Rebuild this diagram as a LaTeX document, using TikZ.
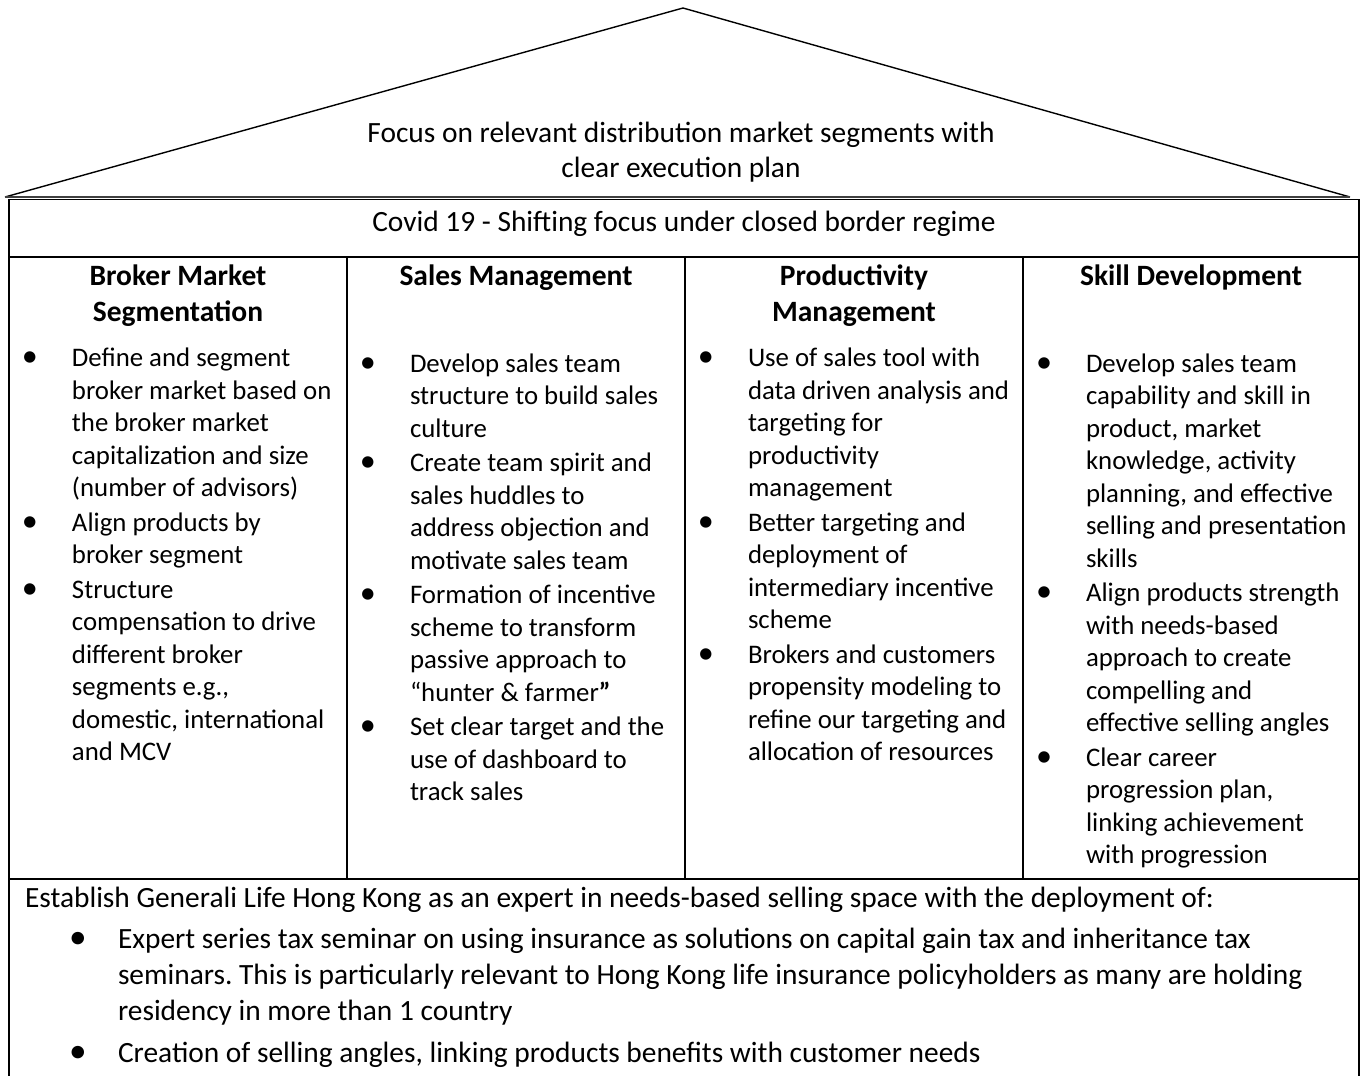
\documentclass[tikz,border=0pt]{standalone}
\usepackage{fontspec}
\setmainfont{Carlito}
\frenchspacing
\newcommand\mybody{\fontsize{26.8}{32.5}\selectfont}
\newcommand\mybig{\fontsize{29.4}{36}\selectfont}
\newcommand\myhead{\fontsize{29.5}{36.5}\selectfont\bfseries}
\newcommand\myroof{\fontsize{29.4}{35}\selectfont}
\newcommand\blt{\makebox[0pt]{\scalebox{1.2}{•}}}
\begin{document}
\begin{tikzpicture}[x=1pt,y=-1pt,
  txt/.style={inner sep=0pt, outer sep=0pt, anchor=base west, font=\mybody},
  bigtxt/.style={inner sep=0pt, outer sep=0pt, anchor=base west, font=\mybig},
  ctxt/.style={inner sep=0pt, outer sep=0pt, anchor=base, font=\mybig},
  hdr/.style={inner sep=0pt, outer sep=0pt, anchor=base, font=\myhead},
  roofline/.style={line width=1.4pt, black, line join=miter},
  frame/.style={line width=1.8pt, black}]
\useasboundingbox (0,0) rectangle (1361,1076);
% roof
\coordinate (apex) at (683,8);
\coordinate (rl) at (5,197);
\coordinate (rr) at (1350,197);
\draw[roofline] (rl) -- (apex) -- (rr);
\draw[line width=1.2pt, black!75] (rl) -- (rr);
\node[ctxt, font=\myroof] (roof) at (681,142) {\begin{tabular}[t]{@{}c@{}}Focus on relevant distribution market segments with\\ clear execution plan\end{tabular}};
% table frame
\coordinate (tl) at (9,199.5);
\coordinate (tr) at (1359,199.5);
\coordinate (bl) at (9,1077);
\coordinate (br) at (1359,1077);
\draw[frame] (bl) -- (tl) -- (tr) -- (br);
\draw[frame] (9,256.7) -- (1359,256.7);
\draw[frame] (9,879) -- (1359,879);
\draw[frame] (347,256.7) -- (347,879);
\draw[frame] (685,256.7) -- (685,879);
\draw[frame] (1023,256.7) -- (1023,879);
% covid row
\node[ctxt] (covid) at (684,231) {Covid 19 - Shifting focus under closed border regime};
% headers
\node[hdr] (h1) at (178,285) {\begin{tabular}[t]{@{}c@{}}Broker Market\\ Segmentation\end{tabular}};
\node[hdr] (h2) at (516,285) {Sales Management};
\node[hdr] (h3) at (854,285) {\begin{tabular}[t]{@{}c@{}}Productivity\\ Management\end{tabular}};
\node[hdr] (h4) at (1191,285) {Skill Development};
% column 1
\node[txt] (c1) at (30,366.5) {\begin{tabular}[t]{@{}l@{\hspace{42pt}}l@{}}
\blt & Define and segment\\
 & broker market based on\\
 & the broker market\\
 & capitalization and size\\
 & (number of advisors)\\[2pt]
\blt & Align products by\\
 & broker segment\\[2pt]
\blt & Structure\\
 & compensation to drive\\
 & different broker\\
 & segments e.g.,\\
 & domestic, international\\
 & and MCV
\end{tabular}};
% column 2
\node[txt] (c2) at (368,372) {\begin{tabular}[t]{@{}l@{\hspace{42pt}}l@{}}
\blt & Develop sales team\\
 & structure to build sales\\
 & culture\\[2pt]
\blt & Create team spirit and\\
 & sales huddles to\\
 & address objection and\\
 & motivate sales team\\[2pt]
\blt & Formation of incentive\\
 & scheme to transform\\
 & passive approach to\\
 & “hunter \& farmer\textbf{”}\\[2pt]
\blt & Set clear target and the\\
 & use of dashboard to\\
 & track sales
\end{tabular}};
% column 3
\node[txt] (c3) at (706,366.5) {\begin{tabular}[t]{@{}l@{\hspace{42pt}}l@{}}
\blt & Use of sales tool with\\
 & data driven analysis and\\
 & targeting for\\
 & productivity\\
 & management\\[2pt]
\blt & Better targeting and\\
 & deployment of\\
 & intermediary incentive\\
 & scheme\\[2pt]
\blt & Brokers and customers\\
 & propensity modeling to\\
 & refine our targeting and\\
 & allocation of resources
\end{tabular}};
% column 4
\node[txt] (c4) at (1044,372) {\begin{tabular}[t]{@{}l@{\hspace{42pt}}l@{}}
\blt & Develop sales team\\
 & capability and skill in\\
 & product, market\\
 & knowledge, activity\\
 & planning, and effective\\
 & selling and presentation\\
 & skills\\[2pt]
\blt & Align products strength\\
 & with needs-based\\
 & approach to create\\
 & compelling and\\
 & effective selling angles\\[2pt]
\blt & Clear career\\
 & progression plan,\\
 & linking achievement\\
 & with progression
\end{tabular}};
% bottom row
\node[bigtxt] (est) at (25,907) {Establish Generali Life Hong Kong as an expert in needs-based selling space with the deployment of:};
\node[bigtxt] (b1) at (78,948) {\begin{tabular}[t]{@{}l@{\hspace{40pt}}l@{}}
\blt & Expert series tax seminar on using insurance as solutions on capital gain tax and inheritance tax\\
 & seminars. This is particularly relevant to Hong Kong life insurance policyholders as many are holding\\
 & residency in more than 1 country\\[6pt]
\blt & Creation of selling angles, linking products benefits with customer needs
\end{tabular}};
\end{tikzpicture}
\end{document}
